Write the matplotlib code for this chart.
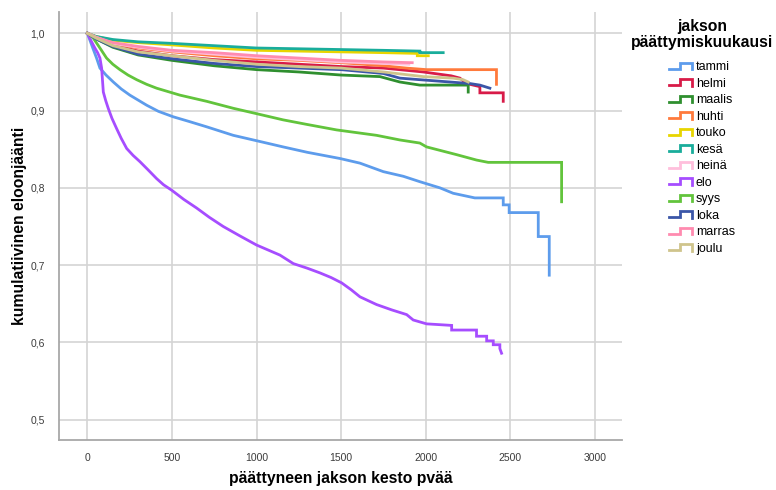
import numpy as np
import matplotlib
matplotlib.use("Agg")
import matplotlib.pyplot as plt
from matplotlib.lines import Line2D
from matplotlib.legend_handler import HandlerBase
from matplotlib.ticker import FuncFormatter

plt.rcParams['font.family'] = ['Liberation Sans', 'DejaVu Sans']

# ---- data ----
names = ["tammi", "helmi", "maalis", "huhti", "touko", "kesä",
         "heinä", "elo", "syys", "loka", "marras", "joulu"]
colors = ["#5d9cec", "#d81b48", "#2f8f2f", "#ff7a3c", "#e8d500", "#19ad9b",
          "#ffbfdc", "#a64dff", "#62c43c", "#3b56a8", "#ff8bb0", "#cfc48c"]

tammi_t = [0, 30, 54, 74, 110, 153, 200, 251, 350, 420, 507, 600, 705, 862, 1020, 1157,
           1300, 1493, 1611, 1749, 1867, 1965, 2084, 2162, 2290, 2458, 2458, 2493, 2493,
           2665, 2665, 2730, 2730]
tammi_s = [1.0, 0.982, 0.968, 0.955, 0.946, 0.937, 0.928, 0.920, 0.907, 0.899, 0.892,
           0.886, 0.879, 0.868, 0.860, 0.853, 0.846, 0.838, 0.832, 0.821, 0.815, 0.808,
           0.800, 0.793, 0.787, 0.787, 0.778, 0.778, 0.768, 0.768, 0.737, 0.737, 0.687]

helmi_t = [0, 50, 150, 300, 500, 750, 1000, 1250, 1500, 1750, 1985, 2150, 2202, 2241,
           2320, 2320, 2458, 2458]
helmi_s = [1.0, 0.994, 0.985, 0.977, 0.971, 0.966, 0.963, 0.960, 0.957, 0.955, 0.950,
           0.945, 0.942, 0.935, 0.931, 0.923, 0.923, 0.912]

maalis_t = [0, 50, 150, 300, 500, 750, 1000, 1250, 1500, 1729, 1847, 1965, 2251, 2251]
maalis_s = [1.0, 0.993, 0.982, 0.972, 0.965, 0.958, 0.953, 0.950, 0.946, 0.944, 0.937,
            0.933, 0.933, 0.924]

huhti_t = [0, 50, 150, 300, 500, 750, 1000, 1250, 1500, 1750, 1887, 2005, 2418, 2418]
huhti_s = [1.0, 0.995, 0.987, 0.981, 0.976, 0.971, 0.967, 0.965, 0.962, 0.958, 0.955,
           0.953, 0.953, 0.934]

touko_t = [0, 50, 150, 300, 500, 750, 1000, 1250, 1500, 1750, 1950, 1950, 2015]
touko_s = [1.0, 0.996, 0.991, 0.988, 0.985, 0.981, 0.978, 0.977, 0.976, 0.975, 0.974,
           0.971, 0.971]

kesa_t = [0, 50, 150, 300, 500, 750, 1000, 1250, 1500, 1750, 1965, 1965, 2103]
kesa_s = [1.0, 0.996, 0.992, 0.989, 0.987, 0.984, 0.981, 0.980, 0.979, 0.978, 0.977,
          0.975, 0.975]

heina_t = [0, 50, 150, 300, 500, 750, 1000, 1250, 1500, 1750, 1900]
heina_s = [1.0, 0.995, 0.987, 0.982, 0.977, 0.973, 0.969, 0.966, 0.963, 0.961, 0.960]

elo_t = [0, 20, 44, 60, 74, 84, 94, 108, 123, 145, 172, 200, 232, 270, 310, 360, 409,
         450, 498, 570, 645, 720, 803, 900, 1000, 1138, 1217, 1300, 1374, 1440, 1503,
         1560, 1611, 1709, 1800, 1887, 1926, 2005, 2153, 2153, 2300, 2300, 2360, 2360,
         2399, 2399, 2438, 2438, 2448]
elo_s = [1.0, 0.991, 0.981, 0.975, 0.968, 0.955, 0.924, 0.913, 0.903, 0.890, 0.877,
         0.864, 0.851, 0.842, 0.834, 0.823, 0.812, 0.804, 0.797, 0.785, 0.774, 0.762,
         0.750, 0.738, 0.726, 0.713, 0.702, 0.696, 0.690, 0.684, 0.677, 0.668, 0.659,
         0.649, 0.642, 0.636, 0.629, 0.624, 0.622, 0.616, 0.616, 0.608, 0.608, 0.602,
         0.602, 0.597, 0.597, 0.592, 0.586]

syys_t = [0, 34, 74, 113, 150, 192, 240, 291, 350, 409, 547, 705, 862, 1020, 1157, 1300,
          1473, 1709, 1847, 1965, 2005, 2182, 2300, 2369, 2803, 2803]
syys_s = [1.0, 0.994, 0.981, 0.968, 0.960, 0.953, 0.946, 0.940, 0.934, 0.929, 0.920,
          0.912, 0.903, 0.895, 0.888, 0.882, 0.875, 0.868, 0.862, 0.858, 0.853, 0.843,
          0.836, 0.833, 0.833, 0.782]

loka_t = [0, 50, 150, 300, 500, 750, 1000, 1250, 1500, 1750, 1847, 1965, 2143, 2261,
          2320, 2379]
loka_s = [1.0, 0.993, 0.983, 0.973, 0.967, 0.961, 0.957, 0.955, 0.953, 0.948, 0.942,
          0.940, 0.937, 0.935, 0.933, 0.929]

marras_t = [0, 50, 150, 300, 500, 750, 1000, 1250, 1500, 1750, 1920]
marras_s = [1.0, 0.995, 0.988, 0.983, 0.978, 0.975, 0.971, 0.968, 0.965, 0.963, 0.962]

joulu_t = [0, 50, 150, 300, 500, 750, 1000, 1250, 1500, 1750, 1985, 2162, 2221, 2251]
joulu_s = [1.0, 0.994, 0.984, 0.976, 0.971, 0.965, 0.960, 0.957, 0.955, 0.950, 0.944,
           0.942, 0.940, 0.937]

series_t = [tammi_t, helmi_t, maalis_t, huhti_t, touko_t, kesa_t, heina_t, elo_t,
            syys_t, loka_t, marras_t, joulu_t]
series_s = [tammi_s, helmi_s, maalis_s, huhti_s, touko_s, kesa_s, heina_s, elo_s,
            syys_s, loka_s, marras_s, joulu_s]

x_ticks = [0, 500, 1000, 1500, 2000, 2500, 3000]
y_ticks = [0.5, 0.6, 0.7, 0.8, 0.9, 1.0]


class StepHandler(HandlerBase):
    def create_artists(self, legend, orig_handle, xdescent, ydescent, width, height,
                       fontsize, trans):
        xs = np.array([0.0, 0.42, 0.42, 0.92, 0.92]) * width - xdescent
        ys = np.array([0.15, 0.15, 0.85, 0.85, 0.1]) * height - ydescent
        ln = Line2D(xs, ys, color=orig_handle.get_color(), lw=2.0,
                    solid_joinstyle='miter')
        ln.set_transform(trans)
        return [ln]


fig = plt.figure(figsize=(7.76, 4.90), dpi=100)
ax = fig.add_axes([59 / 776, 1 - 440 / 490, (622 - 59) / 776, (440 - 12) / 490])

handles = []
for name, col, t, s in zip(names, colors, series_t, series_s):
    ln, = ax.plot(t, s, color=col, lw=2.0, solid_joinstyle='miter', label=name)
    handles.append(ln)

ax.set_xlim(-168, 3160)
ax.set_ylim(0.4737, 1.0276)
ax.set_xticks(x_ticks)
ax.set_yticks(y_ticks)
ax.yaxis.set_major_formatter(FuncFormatter(lambda v, p: f"{v:.1f}".replace('.', ',')))
ax.grid(True, color='#d4d4d4', lw=1.2)
ax.set_axisbelow(True)
for sp in ['top', 'right']:
    ax.spines[sp].set_visible(False)
for sp in ['left', 'bottom']:
    ax.spines[sp].set_color('#a8a8a8')
    ax.spines[sp].set_linewidth(1.3)
ax.tick_params(axis='both', length=0, labelsize=7.5, labelcolor='#3c3c3c')
ax.tick_params(axis='x', pad=9)
ax.tick_params(axis='y', pad=10)

ax.set_xlabel("päättyneen jakson kesto pvää", fontsize=11.3, fontweight='bold')
ax.set_ylabel("kumulatiivinen eloonjäänti", fontsize=11.3, fontweight='bold')
ax.xaxis.set_label_coords((341 - 59) / 563, (440 - 478) / 428)
ax.xaxis.label.set_va('center')
ax.yaxis.set_label_coords((20 - 59) / 563, 0.5)
ax.yaxis.label.set_va('center')

leg = fig.legend(handles=handles, labels=names, loc='upper center',
                 bbox_to_anchor=(702 / 776, 1 - 19 / 490),
                 frameon=False, fontsize=9, handlelength=2.0, handletextpad=0.15,
                 labelspacing=0.36, borderpad=0, borderaxespad=0,
                 handler_map={Line2D: StepHandler()},
                 title="jakson\npäättymiskuukausi",
                 title_fontproperties={'weight': 'bold', 'size': 11.3})
leg.get_title().set_multialignment('center')
leg.get_title().set_linespacing(1.1)
leg._legend_box.sep = 8

fig.savefig("out.png", dpi=100)
